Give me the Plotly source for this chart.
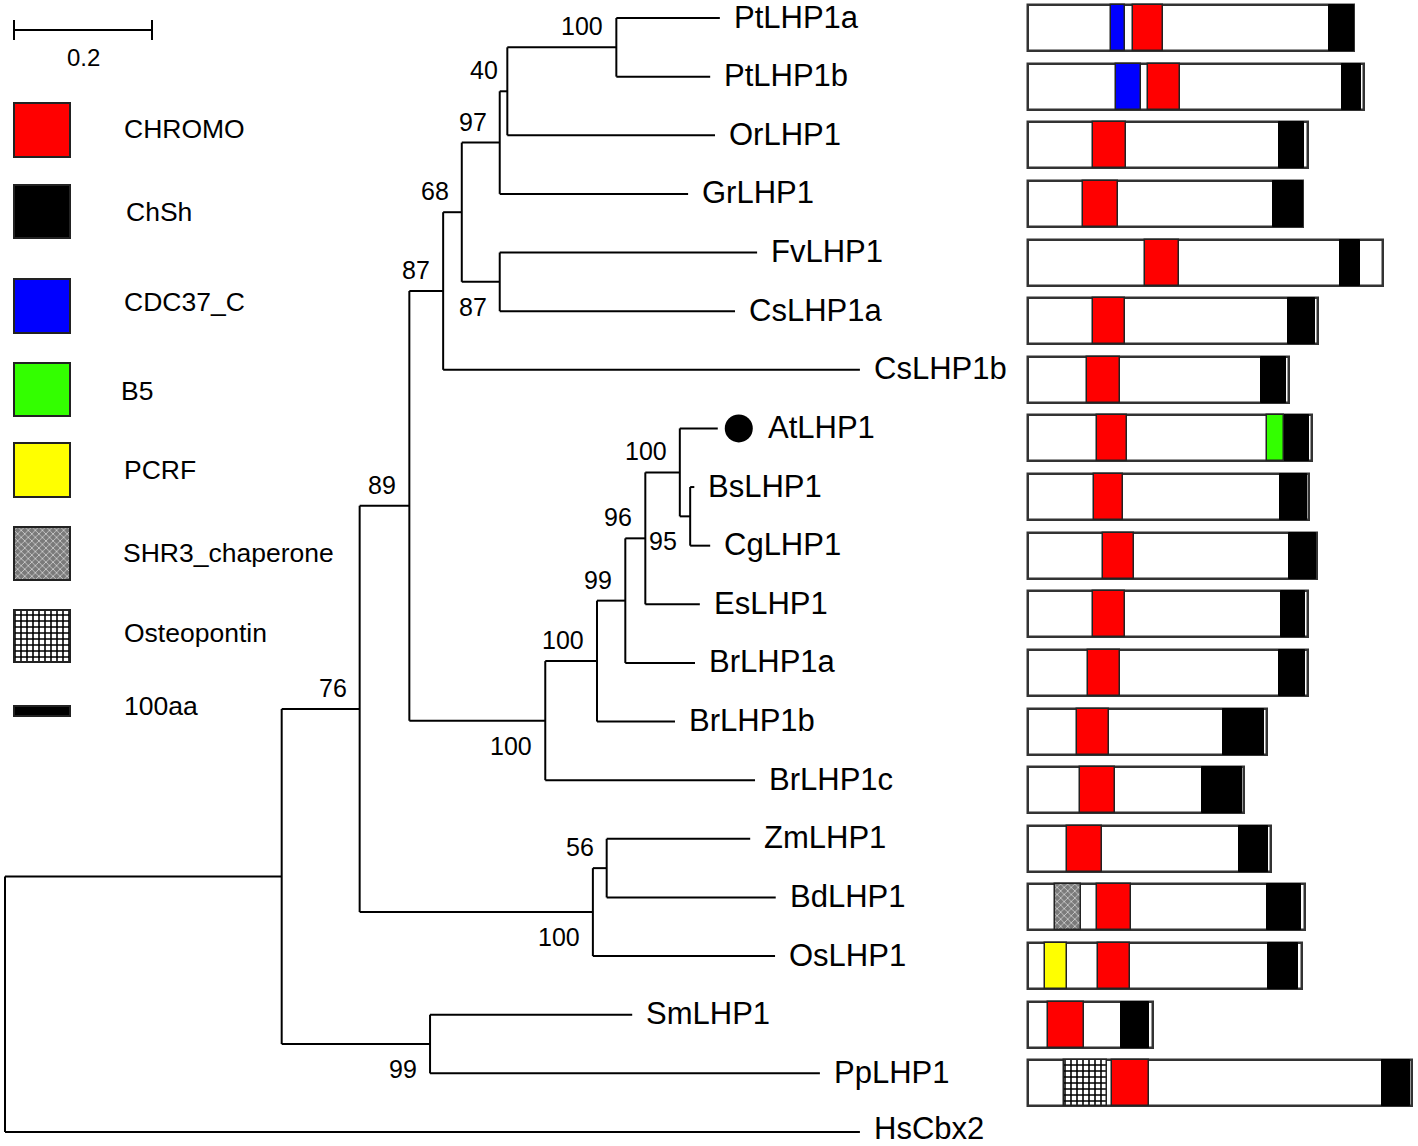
import plotly.graph_objects as go

# ---------------- tree data ----------------
leaf_names = ["PtLHP1a", "PtLHP1b", "OrLHP1", "GrLHP1", "FvLHP1", "CsLHP1a", "CsLHP1b",
              "AtLHP1", "BsLHP1", "CgLHP1", "EsLHP1", "BrLHP1a", "BrLHP1b", "BrLHP1c",
              "ZmLHP1", "BdLHP1", "OsLHP1", "SmLHP1", "PpLHP1", "HsCbx2"]
leaf_depth = [1.036, 1.022, 1.029, 0.990, 1.090, 1.058, 1.239,
              1.033, 0.999, 1.022, 1.007, 1.000, 0.971, 1.087,
              1.080, 1.117, 1.116, 0.909, 1.181, 1.239]

node_names = ["root", "A", "B", "C", "D", "E", "N97", "N40", "NPt", "NFvCs",
              "NBrc", "NBrb", "N99", "N96", "NAt", "NBsCg", "NMono", "N56", "NSmPp"]
node_depth = [0.0, 0.401, 0.514, 0.586, 0.635, 0.662, 0.717, 0.728, 0.886, 0.717,
              0.783, 0.858, 0.899, 0.928, 0.978, 0.993, 0.852, 0.872, 0.616]
node_children = [["A", "HsCbx2"], ["B", "NSmPp"], ["C", "NMono"], ["D", "NBrc"],
                 ["E", "CsLHP1b"], ["N97", "NFvCs"], ["N40", "GrLHP1"], ["NPt", "OrLHP1"],
                 ["PtLHP1a", "PtLHP1b"], ["FvLHP1", "CsLHP1a"], ["NBrb", "BrLHP1c"],
                 ["N99", "BrLHP1b"], ["N96", "BrLHP1a"], ["NAt", "EsLHP1"],
                 ["AtLHP1", "NBsCg"], ["BsLHP1", "CgLHP1"], ["N56", "OsLHP1"],
                 ["ZmLHP1", "BdLHP1"], ["SmLHP1", "PpLHP1"]]
bootstrap = [None, None, 76, 89, 87, 68, 97, 40, 100, 87, 100, 100, 99, 96, 100, 95, 100, 56, 99]
bootstrap_side = [None, None, "above", "above", "above", "above", "above", "above", "above", "below",
                  "below", "above", "above", "above", "above", "below", "below", "above", "below"]

scale_bar_length = 0.2

# ---------------- domain data (aa) ----------------
protein_names = leaf_names[:19]
protein_len = [582, 600, 500, 491, 634, 518, 466, 507, 502, 516, 500, 500, 427, 386, 434, 495, 489, 223, 686]
chromo_start = [187, 214, 116, 98, 209, 116, 105, 123, 118, 134, 116, 107, 87, 93, 70, 123, 125, 36, 150]
chromo_end = [241, 271, 175, 161, 270, 173, 164, 177, 170, 189, 173, 164, 145, 155, 132, 184, 182, 100, 216]
chsh_start = [537, 561, 448, 437, 557, 464, 416, 457, 450, 466, 452, 448, 348, 311, 377, 427, 429, 166, 632]
chsh_end = [582, 595, 493, 491, 593, 512, 461, 502, 498, 514, 495, 495, 421, 382, 429, 488, 482, 216, 682]
cdc37_rows, cdc37_start, cdc37_end = [0, 1], [148, 157], [173, 202]
b5_rows, b5_start, b5_end = [7], [427], [457]
pcrf_rows, pcrf_start, pcrf_end = [16], [30], [70]
shr3_rows, shr3_start, shr3_end = [15], [48], [95]
osteo_rows, osteo_start, osteo_end = [18], [64], [141]

legend_names = ["CHROMO", "ChSh", "CDC37_C", "B5", "PCRF", "SHR3_chaperone", "Osteopontin", "100aa"]

# ---------------- layout constants ----------------
W, H = 1418, 1146
PX_PER_UNIT = 690.0
TREE_X0 = 5.0
ROW0_PX, ROW_PX = 18.0, 58.63
AA_X0, PX_PER_AA = 1028.0, 0.56
FONT = "Arial, Liberation Sans, sans-serif"

leaf_idx = {n: i for i, n in enumerate(leaf_names)}
nodes = {n: (d, c) for n, d, c in zip(node_names, node_depth, node_children)}
depth_of = dict(zip(leaf_names, leaf_depth))
depth_of.update(dict(zip(node_names, node_depth)))

ypos = {}


def gety(n):
    if n in ypos:
        return ypos[n]
    if n in leaf_idx:
        ypos[n] = float(leaf_idx[n])
    else:
        ch = nodes[n][1]
        ys = [gety(c) for c in ch]
        ypos[n] = (min(ys) + max(ys)) / 2
    return ypos[n]


for n in node_names:
    gety(n)

lx, ly = [], []
for n in node_names:
    d, ch = nodes[n]
    ys = [ypos[c] for c in ch]
    lx += [d, d, None]
    ly += [min(ys), max(ys), None]
    for c in ch:
        lx += [d, depth_of[c], None]
        ly += [ypos[c], ypos[c], None]

fig = go.Figure()
fig.add_trace(go.Scatter(x=lx, y=ly, mode="lines", line=dict(color="black", width=2),
                         hoverinfo="skip", showlegend=False, xaxis="x", yaxis="y"))

# black dot at AtLHP1
fig.add_trace(go.Scatter(x=[depth_of["AtLHP1"] + 21 / PX_PER_UNIT], y=[ypos["AtLHP1"]], mode="markers",
                         marker=dict(color="black", size=28), hoverinfo="skip", showlegend=False,
                         xaxis="x", yaxis="y"))

# scale bar
sb_x0 = 9 / PX_PER_UNIT
sb_y = (30 - ROW0_PX) / ROW_PX
tk = 10 / ROW_PX
fig.add_trace(go.Scatter(x=[sb_x0, sb_x0 + scale_bar_length, None, sb_x0, sb_x0, None,
                            sb_x0 + scale_bar_length, sb_x0 + scale_bar_length],
                         y=[sb_y, sb_y, None, sb_y - tk, sb_y + tk, None, sb_y - tk, sb_y + tk],
                         mode="lines", line=dict(color="black", width=2), hoverinfo="skip",
                         showlegend=False, xaxis="x", yaxis="y"))

annotations = []
annotations.append(dict(x=sb_x0 + scale_bar_length / 2, y=(57 - ROW0_PX) / ROW_PX, xref="x", yref="y",
                        text="0.2", showarrow=False, font=dict(size=24, family=FONT, color="black"),
                        xanchor="center", yanchor="middle"))

for n in leaf_names:
    shift = 48 if n == "AtLHP1" else 12
    annotations.append(dict(x=depth_of[n], y=ypos[n], xref="x", yref="y", text=n, showarrow=False,
                            xanchor="left", yanchor="middle", xshift=shift,
                            yshift=3 if n == "HsCbx2" else 1,
                            font=dict(size=31, family=FONT, color="black")))

for n, b, s in zip(node_names, bootstrap, bootstrap_side):
    if b is None:
        continue
    xs = -7 if n == "N40" else -11
    annotations.append(dict(x=nodes[n][0], y=ypos[n], xref="x", yref="y", text=str(b), showarrow=False,
                            xanchor="right", yanchor="middle", xshift=xs,
                            yshift=21 if s == "above" else -25,
                            font=dict(size=25, family=FONT, color="black")))

# ---------------- domain diagrams ----------------
BOX_W = 46 / ROW_PX
BOX_OFF = 10 / ROW_PX
rows = list(range(len(protein_names)))


def dom_bar(rws, st, en, color, line_color="black", line_w=1.5, pattern=None):
    m = dict(color=color, line=dict(color=line_color, width=line_w))
    if pattern:
        m["pattern"] = pattern
    fig.add_trace(go.Bar(orientation="h", y=[r + BOX_OFF for r in rws],
                         x=[e - s for s, e in zip(st, en)], base=st, width=BOX_W,
                         marker=m, hoverinfo="skip", showlegend=False, xaxis="x2", yaxis="y"))


dom_bar(rows, [0] * len(rows), protein_len, "white", "#333333", 2.5)
dom_bar(rows, chromo_start, chromo_end, "#ff0000", "#222222", 1.5)
dom_bar(rows, chsh_start, chsh_end, "black", "black", 1)
dom_bar(cdc37_rows, cdc37_start, cdc37_end, "#0000ff", "#222222", 1.5)
dom_bar(b5_rows, b5_start, b5_end, "#33ff00", "#222222", 1.5)
dom_bar(pcrf_rows, pcrf_start, pcrf_end, "#ffff00", "#222222", 1.5)
SHR3_PAT = dict(shape="x", bgcolor="#7a7a7a", fgcolor="#cfcfcf", size=5, solidity=0.3, fillmode="replace")
OSTEO_PAT = dict(shape="+", bgcolor="white", fgcolor="black", size=6, solidity=0.45, fillmode="replace")
dom_bar(shr3_rows, shr3_start, shr3_end, "#7a7a7a", "#222222", 1.5, SHR3_PAT)
dom_bar(osteo_rows, osteo_start, osteo_end, "white", "#222222", 1.5, OSTEO_PAT)

# ---------------- legend (pixel axes) ----------------
leg_centers = [129.5, 211.5, 305.5, 389.5, 470, 553.5, 636, 711]
leg_heights = [54, 53, 54, 53, 54, 53, 52, 10]
leg_label_y = [130, 213, 303, 392, 471, 554, 634, 707]
leg_label_x = [122, 124, 122, 119, 122, 121, 122, 122]
leg_fill = ["#ff0000", "black", "#0000ff", "#33ff00", "#ffff00", "#7a7a7a", "white", "black"]
leg_pat = [None, None, None, None, None, SHR3_PAT, OSTEO_PAT, None]
for c, h, f, p in zip(leg_centers, leg_heights, leg_fill, leg_pat):
    m = dict(color=f, line=dict(color="#222222", width=2))
    if p:
        m["pattern"] = p
    fig.add_trace(go.Bar(orientation="h", y=[c], x=[56], base=[14], width=h, marker=m,
                         hoverinfo="skip", showlegend=False, xaxis="x3", yaxis="y3"))
for name, x, y in zip(legend_names, leg_label_x, leg_label_y):
    annotations.append(dict(x=x, y=y, xref="x3", yref="y3", text=name, showarrow=False,
                            xanchor="left", yanchor="middle", yshift=1,
                            font=dict(size=26.5, family=FONT, color="black")))

fig.update_layout(
    width=W, height=H, autosize=False,
    margin=dict(l=0, r=0, t=0, b=0, pad=0),
    paper_bgcolor="white", plot_bgcolor="white",
    barmode="overlay", bargap=0,
    showlegend=False,
    xaxis=dict(domain=[0, 1], range=[-TREE_X0 / PX_PER_UNIT, (W - TREE_X0) / PX_PER_UNIT],
               visible=False, anchor="y", fixedrange=True),
    yaxis=dict(domain=[0, 1], range=[(H - ROW0_PX) / ROW_PX, -ROW0_PX / ROW_PX],
               visible=False, anchor="x", fixedrange=True),
    xaxis2=dict(overlaying="x", range=[-AA_X0 / PX_PER_AA, (W - AA_X0) / PX_PER_AA],
                visible=False, anchor="y", fixedrange=True),
    xaxis3=dict(overlaying="x", range=[0, W], visible=False, anchor="y3", fixedrange=True),
    yaxis3=dict(overlaying="y", range=[H, 0], visible=False, anchor="x3", fixedrange=True),
    annotations=annotations,
)

fig.write_html("out.html", config={"displayModeBar": False},
               post_script="document.body.style.margin='0';document.body.style.overflow='hidden';")
